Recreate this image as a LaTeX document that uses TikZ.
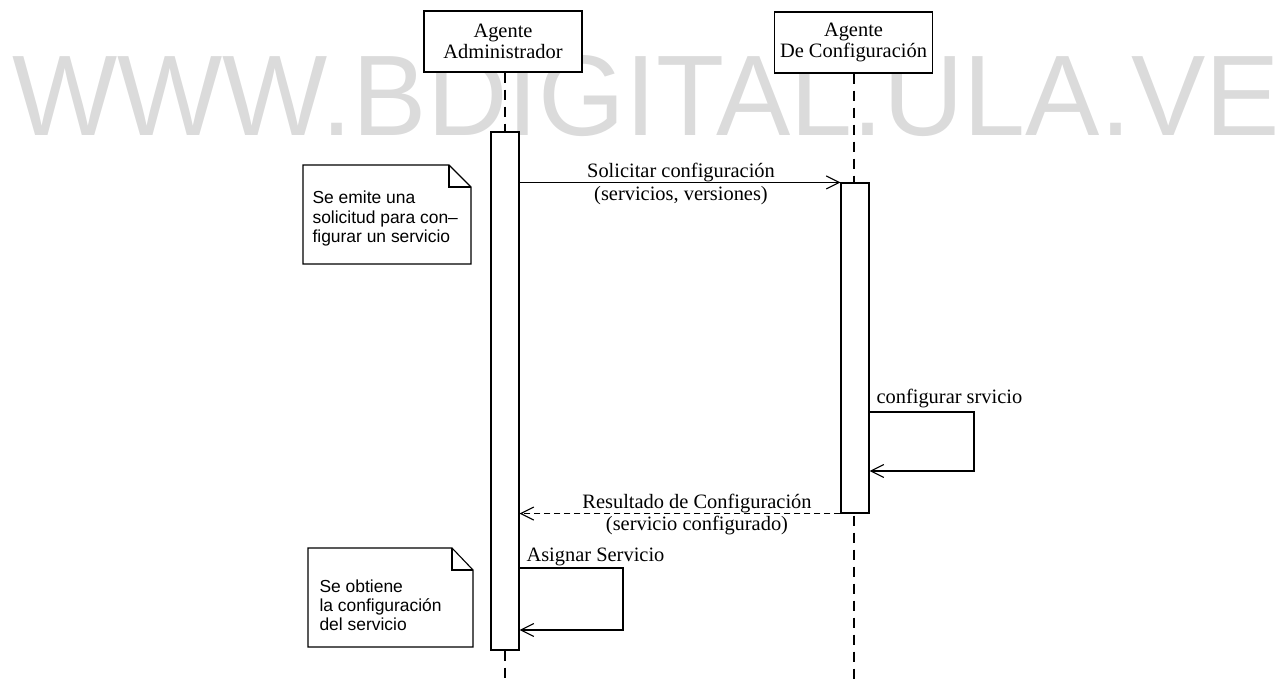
\documentclass[tikz,border=0pt]{standalone}
\usepackage{fontspec}
\usepackage{graphicx}
\setmainfont{Liberation Serif}
\setsansfont{Liberation Sans}
\usetikzlibrary{arrows.meta}

\begin{document}
\begin{tikzpicture}[x=1bp, y=-1bp,
  line width=1.1bp,
  agent/.style={draw, fill=white, minimum width=158bp, minimum height=61bp,
    inner sep=0pt, align=center, font=\fontsize{20.5}{21.5}\selectfont},
  actbar/.style={draw, fill=white, minimum width=28bp, inner sep=0pt},
  lifeline/.style={dash pattern=on 10bp off 7bp},
  msg/.style={-{Straight Barb[length=13bp, width=13bp]}},
  reply/.style={msg, dash pattern=on 6bp off 4bp},
  lbl/.style={inner sep=0pt, font=\fontsize{20.5}{22.5}\selectfont},
  notebox/.style={draw, fill=white, line join=miter},
  notetext/.style={inner sep=0pt, anchor=base west,
    font=\sffamily\fontsize{17.5}{19.5}\selectfont},
  bgtext/.style={inner sep=0pt, text=black!14}
]
\useasboundingbox (0,0) rectangle (1285,684);

% background lettering
\node[bgtext, anchor=south west] (wm) at (12,137)
  {\resizebox{1266bp}{80bp}{\sffamily WWW.BDIGITAL.ULA.VE}};

% participants
\node[agent] (adm) at (503,41.5) {Agente\\Administrador};
\node[agent] (cfg) at (853.5,42.5) {Agente\\De Configuración};

% lifelines
\coordinate (endA) at (505,684);
\coordinate (endB) at (854,684);
\draw[lifeline] (adm.south -| endA) -- (endA);
\draw[lifeline] (cfg.south -| endB) -- (endB);

% activations
\node[actbar, minimum height=518bp] (barA) at (505,391) {};
\node[actbar, minimum height=330bp] (barB) at (855,348) {};

% request
\draw[msg] (barA.east |- barB.north west) -- (barB.north west);
\node[lbl, anchor=base] (reqlbl) at (681,178)
  {\begin{tabular}[t]{@{}c@{}}Solicitar configuración\\(servicios, versiones)\end{tabular}};

% self call on the configuration agent
\coordinate (sb1) at (974,412);
\coordinate (sb2) at (974,471);
\draw[msg] (barB.east |- sb1) -- (sb1) -- (sb2) -- (barB.east |- sb2);
\node[lbl, anchor=base west] (selfB) at (876,403) {configurar srvicio};

% reply
\draw[reply] (barB.south west) -- (barA.east |- barB.south west);
\node[lbl, anchor=base] (replbl) at (697,508)
  {\begin{tabular}[t]{@{}c@{}}Resultado de Configuración\\(servicio configurado)\end{tabular}};

% self call on the administrator agent
\coordinate (sa1) at (623,568);
\coordinate (sa2) at (623,630);
\draw[msg] (barA.east |- sa1) -- (sa1) -- (sa2) -- (barA.east |- sa2);
\node[lbl, anchor=base west] (selfA) at (526,561) {Asignar Servicio};

% notes
\draw[notebox] (303,165) -- (449,165) -- (471,187) -- (471,264) -- (303,264) -- cycle;
\draw (449,165) -- (449,187) -- (471,187);
\node[notetext] (note1) at (312,204)
  {\begin{tabular}[t]{@{}l@{}}Se emite una\\solicitud para con--\\figurar un servicio\end{tabular}};

\draw[notebox] (308,548) -- (452,548) -- (473,570) -- (473,647) -- (308,647) -- cycle;
\draw (452,548) -- (452,570) -- (473,570);
\node[notetext] (note2) at (319,592)
  {\begin{tabular}[t]{@{}l@{}}Se obtiene\\la configuración\\del servicio\end{tabular}};
\end{tikzpicture}
\end{document}
